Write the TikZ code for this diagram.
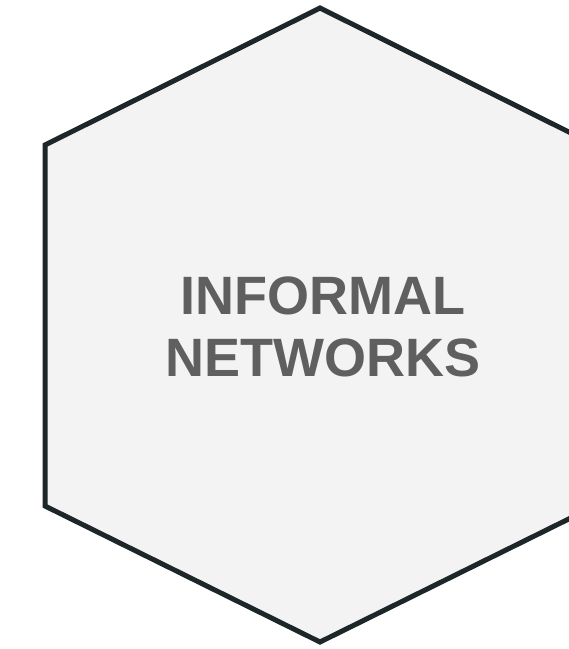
\documentclass[tikz,border=0pt]{standalone}
\usepackage{fontspec}
\setmainfont{Liberation Sans}
\definecolor{edge}{HTML}{1D2629}
\definecolor{cellfill}{HTML}{F3F3F3}
\definecolor{label}{HTML}{5F5F5F}
\tikzset{
  hexcell/.style={draw=edge, fill=cellfill, line width=5pt, line join=miter},
  celltext/.style={text=label, font=\bfseries\fontsize{54}{62}\selectfont, align=center, inner sep=0pt}
}
\begin{document}
\begin{tikzpicture}[x=1pt, y=-1pt]
  \useasboundingbox (0,0) rectangle (569,649);
  \clip (0,0) rectangle (569,649);
  % hexagon corners
  \coordinate (top) at (320,8);
  \coordinate (ul) at (45,145);
  \coordinate (ll) at (45,506);
  \coordinate (bot) at (320,642);
  \coordinate (lr) at (595,506);
  \coordinate (ur) at (595,145);
  \draw[hexcell] (top) -- (ul) -- (ll) -- (bot) -- (lr) -- (ur) -- cycle;
  \node[celltext] (title) at (323,327) {INFORMAL\\NETWORKS};
\end{tikzpicture}
\end{document}
